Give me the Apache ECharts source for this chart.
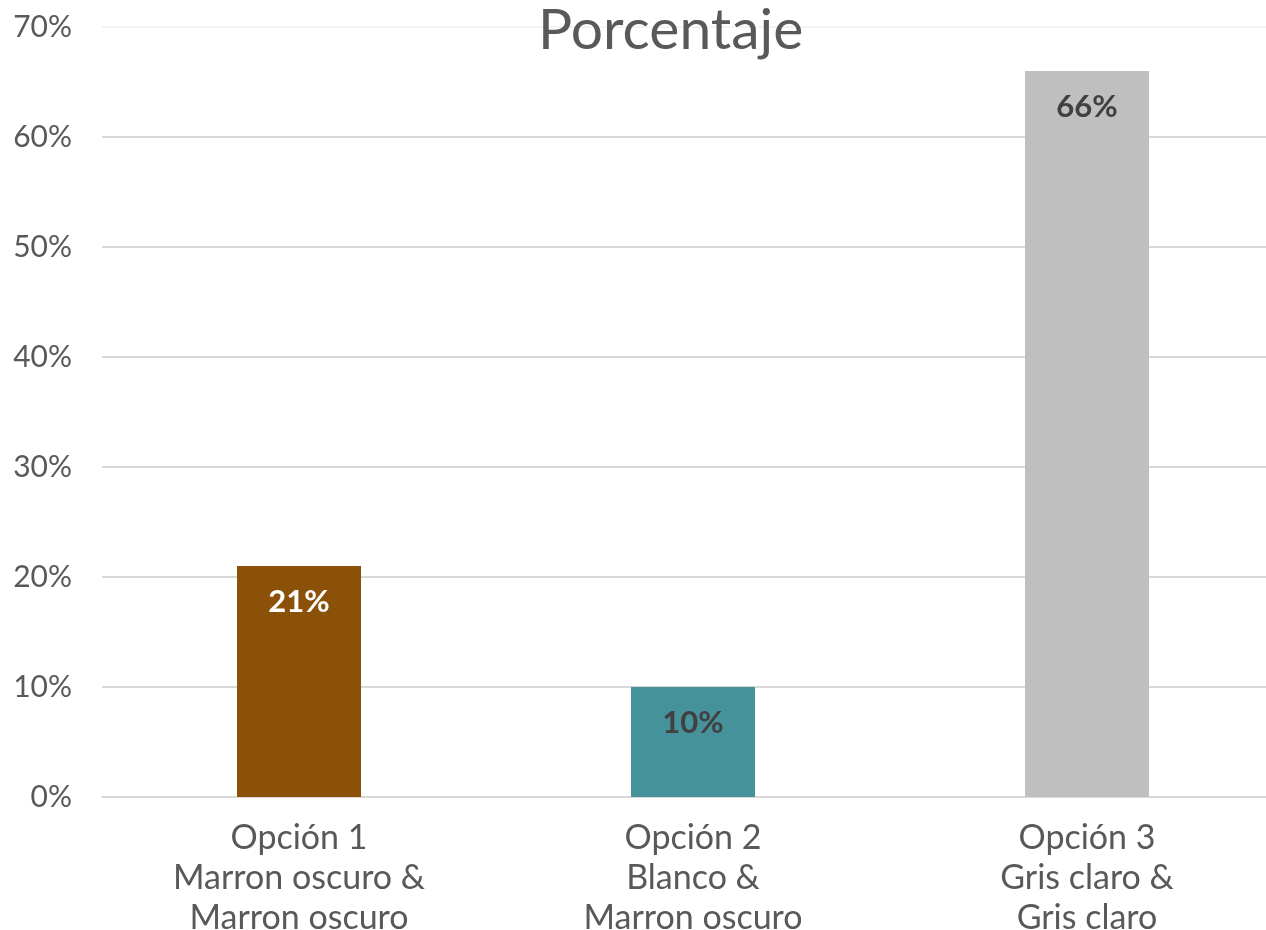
<!DOCTYPE html>
<html>
<head>
<meta charset="utf-8">
<script src="https://cdn.jsdelivr.net/npm/echarts@6/dist/echarts.min.js"></script>
<style>
  html, body { margin: 0; padding: 0; background: #ffffff; }
  #chart { width: 1266px; height: 930px; }
</style>
</head>
<body>
<div id="chart"></div>
<script>
const chartTitle = 'Porcentaje';
const categories = [
  'Opción 1\nMarron oscuro &\nMarron oscuro',
  'Opción 2\nBlanco &\nMarron oscuro',
  'Opción 3\nGris claro &\nGris claro'
];
const values = [21, 10, 66];
const barColors = ['#8B5109', '#46929B', '#BFBFBF'];
const labelColors = ['#FFFFFF', '#404040', '#404040'];
const yTicks = { min: 0, max: 70, interval: 10 };

const fontFamily = 'Lato, "Open Sans", "DejaVu Sans", sans-serif';

// gridlines: regular grey, the top one at max is much fainter
const gridColors = ['#D9D9D9', '#D9D9D9', '#D9D9D9', '#D9D9D9', '#D9D9D9', '#D9D9D9', '#D9D9D9', '#F4F4F4'];

const chart = echarts.init(document.getElementById('chart'));
chart.setOption({
  animation: false,
  title: {
    text: chartTitle,
    left: 533,
    top: -3,
    textStyle: { fontFamily, fontSize: 57, fontWeight: 'normal', color: '#595959' }
  },
  grid: {
    left: 102, top: 27, right: -18, bottom: 133,
    containLabel: false, outerBoundsMode: 'none'
  },
  xAxis: {
    type: 'category',
    data: categories,
    axisLine: { show: true, lineStyle: { color: '#D9D9D9', width: 2 } },
    axisTick: { show: false },
    axisLabel: {
      fontFamily, fontSize: 34, color: '#595959', lineHeight: 40, margin: 21
    }
  },
  yAxis: {
    type: 'value',
    min: yTicks.min,
    max: yTicks.max,
    interval: yTicks.interval,
    axisLine: { show: false },
    axisTick: { show: false },
    splitLine: { lineStyle: { color: gridColors, width: 2 } },
    axisLabel: {
      fontFamily, fontSize: 30, color: '#595959', margin: 30,
      formatter: v => v + '%'
    }
  },
  series: [{
    type: 'bar',
    barWidth: 124,
    data: values.map((v, i) => ({
      value: v,
      itemStyle: { color: barColors[i] },
      label: { color: labelColors[i] }
    })),
    label: {
      show: true,
      position: 'insideTop',
      distance: 20,
      fontFamily,
      fontSize: 31,
      fontWeight: 'bold',
      formatter: p => p.value + '%'
    }
  }]
});
</script>
</body>
</html>
